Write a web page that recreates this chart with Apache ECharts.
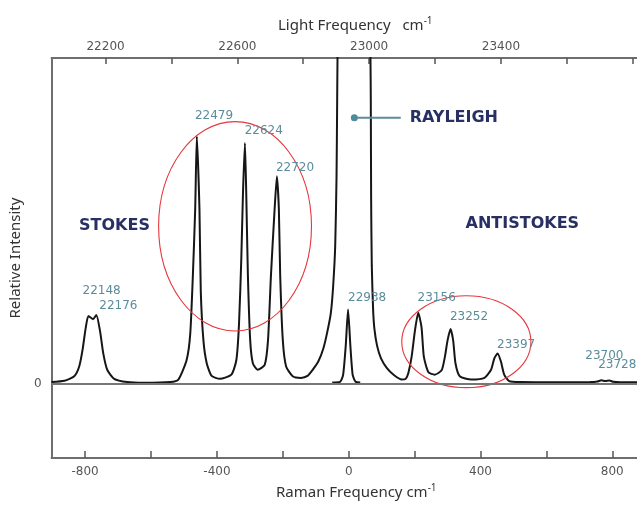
<!DOCTYPE html>
<html><head><meta charset="utf-8">
<script src="https://cdn.jsdelivr.net/npm/echarts@6/dist/echarts.min.js"></script>
<style>html,body{margin:0;padding:0;background:#fff}#c{width:637px;height:508px}</style>
</head><body><div id="c"></div>
<script>
// ---- DATA ----
// Raman shift (cm-1) and relative intensity of the spectrum (arbitrary units)
const ramanShift = [-902,-863,-833,-818,-808,-798,-790,-776,-766,-755,-745,-733,-712,-672,-622,-542,-517,-492,-481,-473,-466,-461,-453,-449,-441,-431,-416,-391,-356,-341,-333,-326,-321,-315,-311,-306,-299,-291,-276,-255,-245,-236,-225,-218,-212,-208,-200,-190,-170,-145,-125,-110,-92,-77,-65,-54,-47,-41,-37,-35,-34,15,66,67,68,70,74,78,86,98,116,137,161,173,181,191,201,211,221,228,242,261,282,292,300,309,317,324,337,372,412,432,442,452,462,472,487,523,643,733,755,767,779,791,803,824,875];
const intensity = [1.7,3,7.7,17.7,34.3,57.7,69.3,66,70.3,54.3,31,14.3,5,1.7,1,1.7,4.3,24.3,51,111,178,253,178,94.3,44.3,21,8,5,9.3,24.3,61,128,194.3,246,194.3,111,44.3,21,14.3,19.3,44.3,111,178,212,178,111,44.3,17.7,7.7,6,8,14,23,36,53,73,101,141,211,291,333,1500,333,291,191,121,76,56,39,26,16,9,4.3,5,11,27.7,54.3,72.7,57.7,27.7,11.7,9.3,13.7,27.7,44.3,56,44.3,21,7.7,4.3,6,14.3,26,31,22.7,9.3,2.7,1.7,1.5,1.7,2.3,3.5,2.8,3.2,2,1.5,1.5];
// separate elastic line near 0 cm-1
const elasticShift = [-50,-26,-17,-9,-2,5,12,21,35];
const elasticIntensity = [1.4,2,9,39,76,39,9,2,1.4];
// peak labels (light frequency, cm-1)
const peakLabels = ['22148','22176','22479','22624','22720','22938','23156','23252','23397','23700','23728'];
// axis ticks
const bottomTicks = [-800,-600,-400,-200,0,200,400,600,800];
const bottomLabels = [-800,-400,0,400,800];
const topTicks = [22200,22400,22600,22800,23000,23200,23400,23600,23800];
const topLabels = [22200,22600,23000,23400];
const laserFreq = 22938;
const regionNames = ['STOKES','ANTISTOKES'];
const rayleighName = 'RAYLEIGH';

// ---- LAYOUT (annotation anchors in data units) ----
const xMin = -902, xMax = 875, yMin = -76, yMax = 333;
const peakLabelPos = [[-750,95],[-699,80],[-409,274],[-258,259],[-163,221],[56,88],[267,88],[365,68],[508,40],[776,29],[815,19]];
const regionPos = [[-711,161],[527,163]];
const rayleighLine = [[17,272],[158,272]];
const rayleighTextPos = [319,272];
const ellipses = [[-345,161,232,107],[357,43,196,47]];

const chart = echarts.init(document.getElementById('c'));
const axisGray = '#6e6e6e';
const tickFont = {fontFamily:'DejaVu Sans', fontSize:12, color:'#555'};
const titleStyle = {fontFamily:'Noto Sans', fontSize:15, color:'#333', lineHeight:20,
  rich:{s:{fontFamily:'Noto Sans', fontSize:10, color:'#333', verticalAlign:'top', lineHeight:12}}};
const hiddenItem = {color:'rgba(0,0,0,0)', opacity:1};

chart.setOption({
  animation:false,
  backgroundColor:'#fff',
  grid:{left:47,right:0,top:58,bottom:41},
  xAxis:[{
    type:'value', position:'bottom', min:xMin, max:xMax,
    axisLine:{show:true,onZero:false,lineStyle:{color:axisGray,width:2}},
    axisTick:{show:true,inside:true,length:7,customValues:bottomTicks,lineStyle:{color:'#555',width:1.5}},
    axisLabel:Object.assign({customValues:bottomLabels,margin:8,formatter:v=>String(v)},tickFont),
    splitLine:{show:false},
    name:'Raman Frequency cm{s|-1}', nameLocation:'middle', nameGap:22,
    nameTextStyle:Object.assign({padding:[0,0,0,24]},titleStyle)
  },{
    type:'value', position:'top', min:xMin+laserFreq, max:xMax+laserFreq,
    axisLine:{show:true,onZero:false,lineStyle:{color:axisGray,width:2}},
    axisTick:{show:true,inside:true,length:6,customValues:topTicks,lineStyle:{color:'#555',width:1.5}},
    axisLabel:Object.assign({customValues:topLabels,margin:5,formatter:v=>String(v)},tickFont),
    splitLine:{show:false},
    name:'Light Frequency   cm{s|-1}', nameLocation:'middle', nameGap:22,
    nameTextStyle:Object.assign({padding:[0,0,0,22]},titleStyle)
  }],
  yAxis:{
    type:'value', min:yMin, max:yMax,
    axisLine:{show:true,onZero:false,lineStyle:{color:axisGray,width:2}},
    axisTick:{show:true,inside:true,length:4,customValues:[0],lineStyle:{color:'#555'}},
    axisLabel:Object.assign({customValues:[0],margin:10},tickFont),
    splitLine:{show:false},
    name:'Relative Intensity', nameLocation:'middle', nameGap:19,
    nameTextStyle:{fontFamily:'Noto Sans',fontSize:15,color:'#333'}
  },
  series:[
    {type:'line', data:ramanShift.map((x,i)=>[x,intensity[i]]), showSymbol:false, smooth:0.2,
     lineStyle:{color:'#161616',width:2}, clip:true, silent:true, z:3,
     markLine:{silent:true,symbol:'none',label:{show:false},lineStyle:{color:'#777',width:2,type:'solid'},data:[{yAxis:0}]}},
    {type:'line', data:elasticShift.map((x,i)=>[x,elasticIntensity[i]]), showSymbol:false, smooth:0.2,
     lineStyle:{color:'#161616',width:2}, silent:true, z:3},
    {type:'custom', silent:true, z:4, data:ellipses,
     renderItem:function(params, api){
       const c = api.coord([api.value(0), api.value(1)]);
       const s = api.size([api.value(2), api.value(3)]);
       return {type:'ellipse', shape:{cx:c[0],cy:c[1],rx:s[0],ry:s[1]},
               style:{fill:'none',stroke:'#e5373d',lineWidth:1.1}};
     }},
    {type:'scatter', silent:true, symbolSize:1, itemStyle:hiddenItem, z:5,
     data:peakLabels.map((t,i)=>({name:t,value:peakLabelPos[i]})),
     label:{show:true,position:'inside',formatter:'{b}',fontFamily:'DejaVu Sans',fontSize:12,color:'#5b8c9b',textBorderWidth:0}},
    {type:'scatter', silent:true, symbolSize:1, itemStyle:hiddenItem, z:5,
     data:regionNames.map((t,i)=>({name:t,value:regionPos[i]})).concat([{name:rayleighName,value:rayleighTextPos}]),
     label:{show:true,position:'inside',formatter:'{b}',fontFamily:'DejaVu Sans',fontWeight:'bold',fontSize:16,color:'#283063',textBorderWidth:0}},
    {type:'line', silent:true, data:rayleighLine, showSymbol:false, lineStyle:{color:'#5b8d9b',width:2}, z:5},
    {type:'scatter', silent:true, data:[rayleighLine[0]], symbol:'circle', symbolSize:7, itemStyle:{color:'#4f8b9c',opacity:1}, z:6}
  ]
});
</script></body></html>
